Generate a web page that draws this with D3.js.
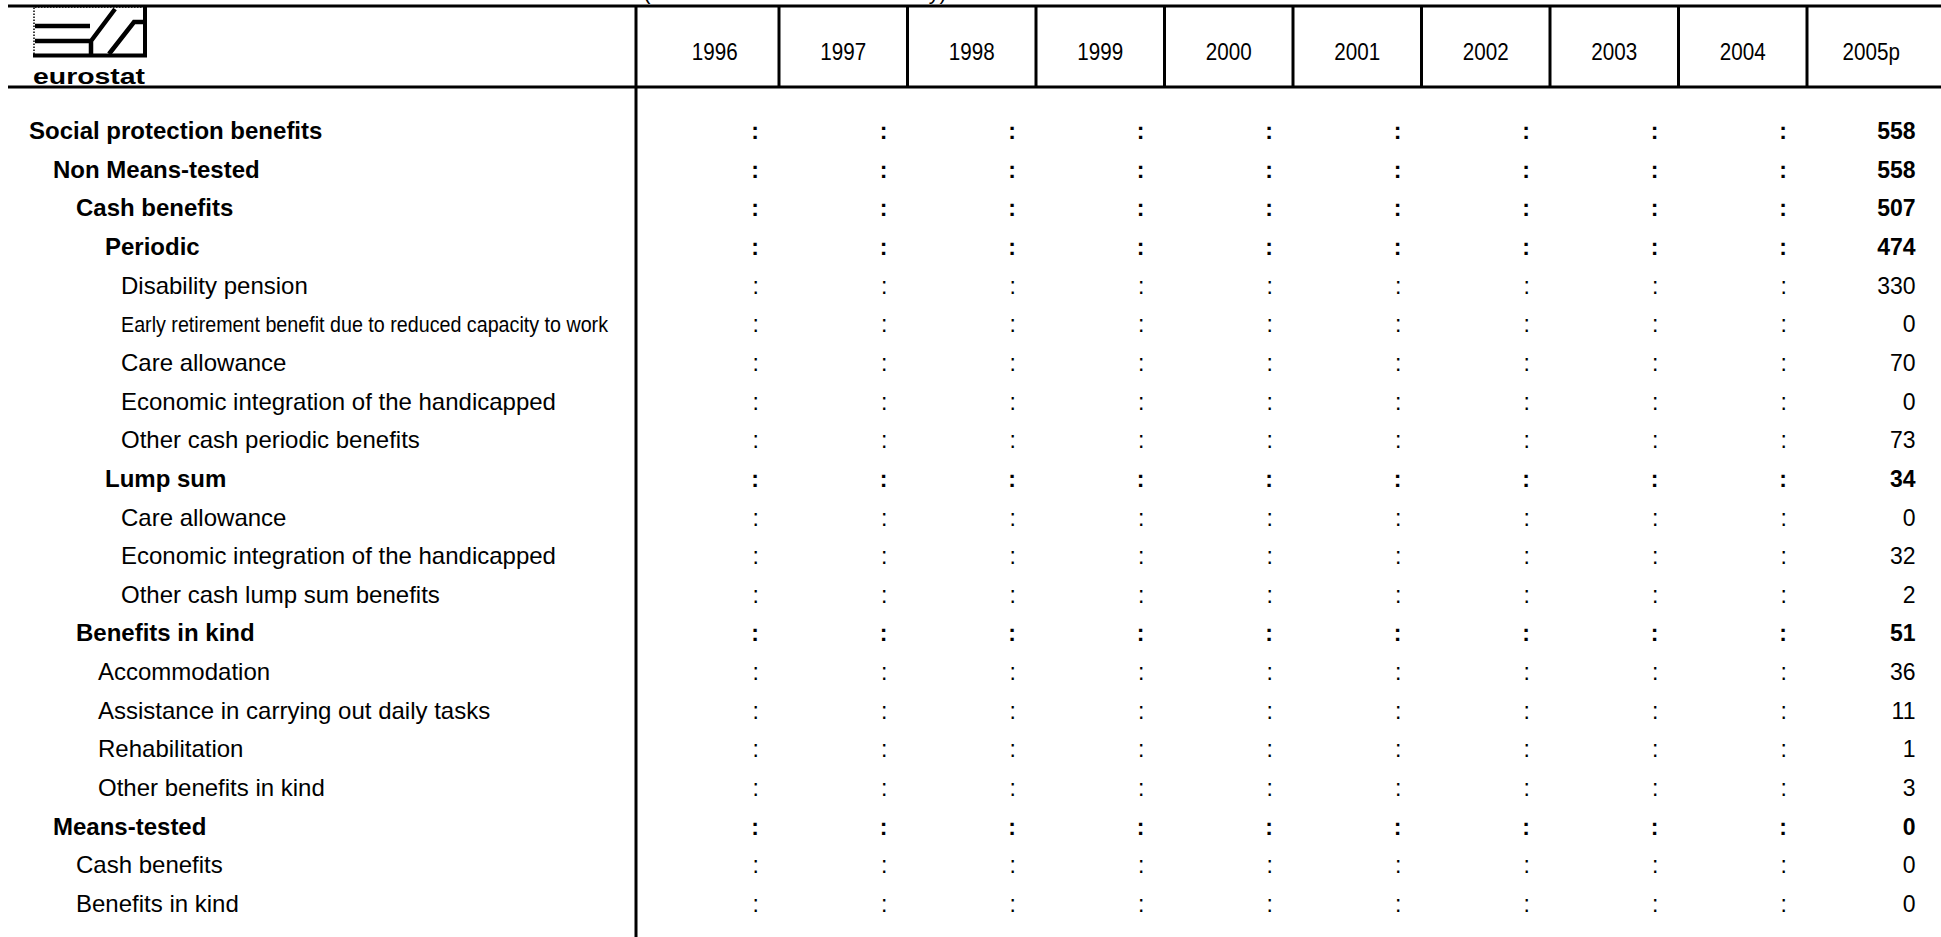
<!DOCTYPE html>
<html>
<head>
<meta charset="utf-8">
<script src="https://cdn.jsdelivr.net/npm/d3@7"></script>
<style>
  body { margin: 0; background: #fff; }
  svg { display: block; font-family: "Liberation Sans", Arial, sans-serif; }
</style>
</head>
<body>
<div id="table"></div>
<script>
// column headers
const years = ["1996", "1997", "1998", "1999", "2000", "2001", "2002", "2003", "2004", "2005p"]

// row labels, depth in the tree and whether the row is an aggregate (bold)
const rowLabels = [
  "Social protection benefits",
  "Non Means-tested",
  "Cash benefits",
  "Periodic",
  "Disability pension",
  "Early retirement benefit due to reduced capacity to work",
  "Care allowance",
  "Economic integration of the handicapped",
  "Other cash periodic benefits",
  "Lump sum",
  "Care allowance",
  "Economic integration of the handicapped",
  "Other cash lump sum benefits",
  "Benefits in kind",
  "Accommodation",
  "Assistance in carrying out daily tasks",
  "Rehabilitation",
  "Other benefits in kind",
  "Means-tested",
  "Cash benefits",
  "Benefits in kind"
]
const rowDepth = [0, 1, 2, 3, 4, 4, 4, 4, 4, 3, 4, 4, 4, 2, 3, 3, 3, 3, 1, 2, 2]
const rowBold  = [1, 1, 1, 1, 0, 0, 0, 0, 0, 1, 0, 0, 0, 1, 0, 0, 0, 0, 1, 0, 0]

// only 2005p is available, earlier years are ":" (not available)
const values2005 = [558, 558, 507, 474, 330, 0, 70, 0, 73, 34, 0, 32, 2, 51, 36, 11, 1, 3, 0, 0, 0]

const title = "(in millions of national currency)"

document.addEventListener("DOMContentLoaded", () => {
  const config = {
    "w": 1941,
    "h": 937,
    "top": 6,
    "head": 87,
    "split": 636,
    "col_start": 650.5,
    "col_end": 1935.5,
    "row_start": 107,
    "row_h": 38.65,
  }

  const svg = d3.select("#table")
                .append("svg")
                .attr("width", config.w)
                .attr("height", config.h)

  const x_scale = d3.scaleBand()
                    .domain(years)
                    .range([config.col_start, config.col_end])

  const rows = d3.range(rowLabels.length)
  const y_scale = d3.scaleBand()
                    .domain(rows)
                    .range([config.row_start, config.row_start + rows.length * config.row_h])

  // indent by depth; plain rows at depth 3 sit a bit left of bold ones
  const indent = (d, b) => {
    if (d === 3 && !b) return 98
    return [29, 53, 76, 105, 121][d]
  }

  const cells = rows.map(i => years.map(yr => ({
    row: i,
    year: yr,
    value: yr === "2005p" ? values2005[i] : null
  })))

  // partial title, cut by the top of the page
  svg.append("text")
     .attr("x", 795)
     .attr("y", -1.5)
     .attr("text-anchor", "middle")
     .style("font-size", "21.6px")
     .text(title)

  // lines
  svg.append("line")
     .attr("x1", 8).attr("x2", config.w)
     .attr("y1", config.top).attr("y2", config.top)
     .attr("stroke", "#000").attr("stroke-width", 3)
  svg.append("line")
     .attr("x1", 8).attr("x2", config.w)
     .attr("y1", config.head).attr("y2", config.head)
     .attr("stroke", "#000").attr("stroke-width", 3)
  svg.append("line")
     .attr("x1", config.split).attr("x2", config.split)
     .attr("y1", config.top).attr("y2", config.h)
     .attr("stroke", "#000").attr("stroke-width", 3)

  svg.selectAll(".colsep")
     .data(years.slice(0, -1))
     .enter()
     .append("line")
     .attr("class", "colsep")
     .attr("x1", d => x_scale(d) + x_scale.bandwidth())
     .attr("x2", d => x_scale(d) + x_scale.bandwidth())
     .attr("y1", config.top).attr("y2", config.head)
     .attr("stroke", "#000").attr("stroke-width", 3)

  // year headers, slightly condensed like the original
  svg.selectAll(".year")
     .data(years)
     .enter()
     .append("text")
     .attr("class", "year")
     .attr("transform", d => "translate(" + (x_scale(d) + x_scale.bandwidth() / 2) + ",60) scale(0.86,1)")
     .attr("text-anchor", "middle")
     .style("font-size", "24px")
     .text(d => d)

  // logo
  const logo = svg.append("g").attr("transform", "translate(33,6)")
  logo.append("path")
      .attr("d", "M1,51 V1 H112")
      .attr("fill", "none").attr("stroke", "#000")
      .attr("stroke-width", 1.5).attr("stroke-dasharray", "1.5,1.5")
  logo.append("path")
      .attr("d", "M0,49.5 H112 V1")
      .attr("fill", "none").attr("stroke", "#000").attr("stroke-width", 4)
  logo.append("path")
      .attr("d", "M2,20 H57 M2,35 H59 M58,35 V48 M58,35 L82,3 M76,48 L101,16 H111")
      .attr("fill", "none").attr("stroke", "#000").attr("stroke-width", 4.5)
  logo.append("text")
      .attr("x", 0).attr("y", 78)
      .attr("textLength", 112)
      .attr("lengthAdjust", "spacingAndGlyphs")
      .style("font-size", "22px")
      .style("font-weight", "bold")
      .text("eurostat")

  // row labels
  svg.selectAll(".label")
     .data(rows)
     .enter()
     .append("text")
     .attr("class", "label")
     .attr("x", i => indent(rowDepth[i], rowBold[i]))
     .attr("y", i => y_scale(i) + 32)
     .style("font-size", i => rowLabels[i].length > 50 ? "22px" : "24px")
     .style("font-weight", i => rowBold[i] ? "bold" : "normal")
     .each(function (i) {
       if (rowLabels[i].length > 50) {
         d3.select(this).attr("textLength", 487).attr("lengthAdjust", "spacingAndGlyphs")
       }
     })
     .text(i => rowLabels[i])

  // values
  svg.selectAll(".row")
     .data(cells)
     .enter()
     .append("g")
     .attr("class", "row")
     .selectAll("text")
     .data(d => d)
     .enter()
     .append("text")
     .attr("x", d => x_scale(d.year) + x_scale.bandwidth() - 20)
     .attr("y", d => y_scale(d.row) + 32)
     .attr("text-anchor", "end")
     .style("font-size", "23px")
     .style("font-weight", d => rowBold[d.row] ? "bold" : "normal")
     .text(d => d.value === null ? ":" : d.value)
})
</script>
</body>
</html>
